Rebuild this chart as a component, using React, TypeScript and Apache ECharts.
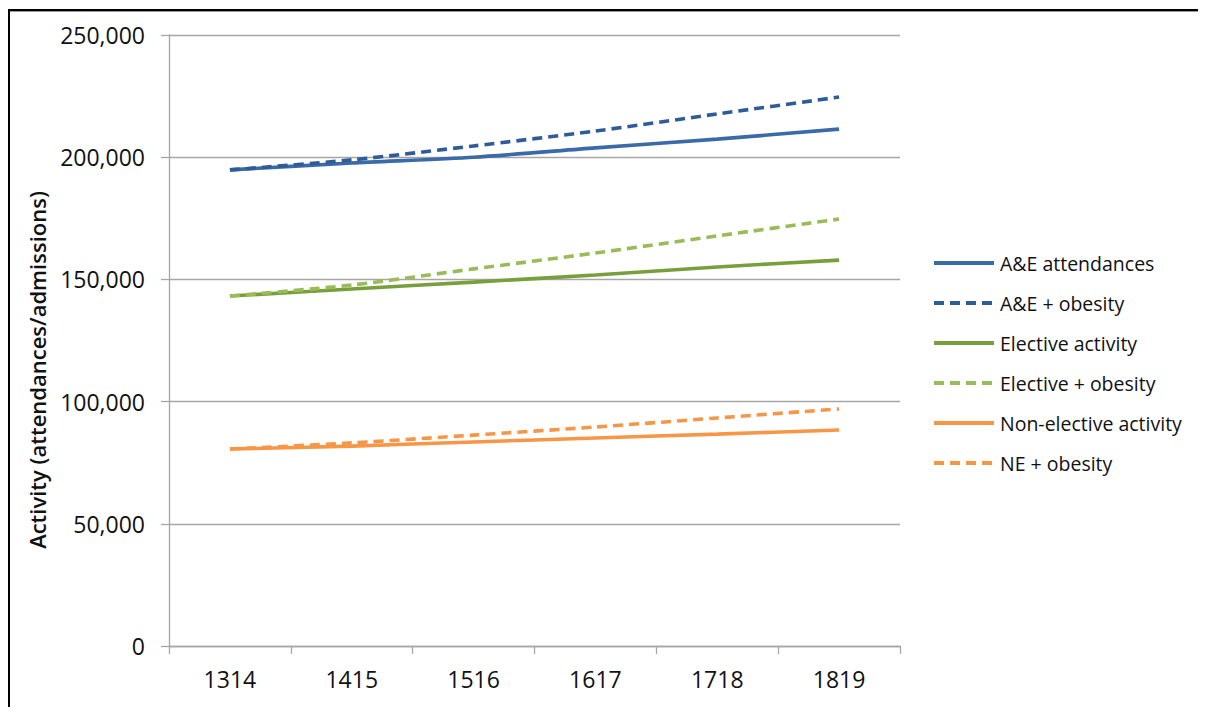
import React, { useEffect, useRef } from "react";
import * as echarts from "echarts";

const categories = ["1314", "1415", "1516", "1617", "1718", "1819"];
const aeAttendances = [194800, 197600, 200000, 203800, 207400, 211500];
const aeObesity = [194800, 198900, 204600, 210700, 217700, 224600];
const electiveActivity = [143200, 146100, 148900, 151800, 155100, 157900];
const electiveObesity = [143200, 147700, 154300, 160800, 167800, 174700];
const nonElectiveActivity = [80600, 81800, 83500, 85100, 86700, 88400];
const neObesity = [80600, 83100, 86300, 89600, 93300, 97000];
const yTicks = [0, 50000, 100000, 150000, 200000, 250000];

const FONT = "'Open Sans', 'Noto Sans', sans-serif";

export default function App() {
  const ref = useRef<HTMLDivElement>(null);
  useEffect(() => {
    if (!ref.current) return;
    const chart = echarts.init(ref.current, undefined, { renderer: "svg" });
    const dash = [10, 6];
    const mk = (name: string, data: number[], color: string, dashed: boolean) => ({
      name,
      type: "line",
      data,
      smooth: 0.25,
      symbol: "none",
      lineStyle: { color, width: 3.6, type: dashed ? dash : "solid", cap: "butt" },
      itemStyle: { color },
    });
    chart.setOption({
      animation: false,
      backgroundColor: "#ffffff",
      textStyle: { fontFamily: FONT },
      grid: { left: 161, right: 298, top: 27, bottom: 61 },
      xAxis: {
        type: "category",
        data: categories,
        boundaryGap: true,
        axisLine: { lineStyle: { color: "#a6a6a6", width: 1.3 } },
        axisTick: { show: true, length: 8, lineStyle: { color: "#a6a6a6", width: 1.3 } },
        axisLabel: { color: "#111", fontSize: 23, margin: 21, fontFamily: FONT },
        splitLine: { show: false },
      },
      yAxis: {
        type: "value",
        min: yTicks[0],
        max: yTicks[yTicks.length - 1],
        interval: 50000,
        axisLine: { show: true, lineStyle: { color: "#a6a6a6", width: 1.3 } },
        axisTick: { show: true, length: 8, lineStyle: { color: "#a6a6a6", width: 1.3 } },
        axisLabel: {
          color: "#111",
          fontSize: 23,
          margin: 24,
          fontFamily: FONT,
          formatter: (v: number) => v.toLocaleString("en-US"),
        },
        splitLine: { show: true, lineStyle: { color: "#a6a6a6", width: 1.3 } },
      },
      legend: {
        orient: "vertical",
        left: 924,
        top: 245,
        padding: 0,
        itemWidth: 60,
        itemHeight: 20,
        itemGap: 20,
        itemStyle: { opacity: 0 },
        lineStyle: { width: 4 },
        textStyle: { fontSize: 19.5, color: "#111", fontFamily: FONT, padding: [0, 0, 0, 1], lineHeight: 20 },
        data: [
          "A&E attendances",
          "A&E + obesity",
          "Elective activity",
          "Elective + obesity",
          "Non-elective activity",
          "NE + obesity",
        ],
      },
      graphic: [
        { type: "rect", left: 0, top: 1, shape: { width: 2, height: 720 }, style: { fill: "#000" } },
        { type: "rect", left: 0, top: 1, shape: { width: 1200, height: 2 }, style: { fill: "#000" } },
        { type: "rect", left: 2, top: 3, shape: { width: 1200, height: 1 }, style: { fill: "#999" } },
        {
          type: "text",
          x: 29,
          y: 362,
          rotation: Math.PI / 2,
          style: {
            text: "Activity (attendances/admissions)",
            fontSize: 22,
            fontWeight: 600,
            fontFamily: FONT,
            fill: "#111",
            textAlign: "center",
            textVerticalAlign: "middle",
          },
        },
      ],
      series: [
        mk("A&E attendances", aeAttendances, "#3B6AA8", false),
        mk("A&E + obesity", aeObesity, "#2E5C98", true),
        mk("Elective activity", electiveActivity, "#77A03C", false),
        mk("Elective + obesity", electiveObesity, "#9BBB59", true),
        mk("Non-elective activity", nonElectiveActivity, "#F79646", false),
        mk("NE + obesity", neObesity, "#F79646", true),
      ],
    });
    return () => chart.dispose();
  }, []);
  return <div ref={ref} style={{ width: 1190, height: 699 }} />;
}
